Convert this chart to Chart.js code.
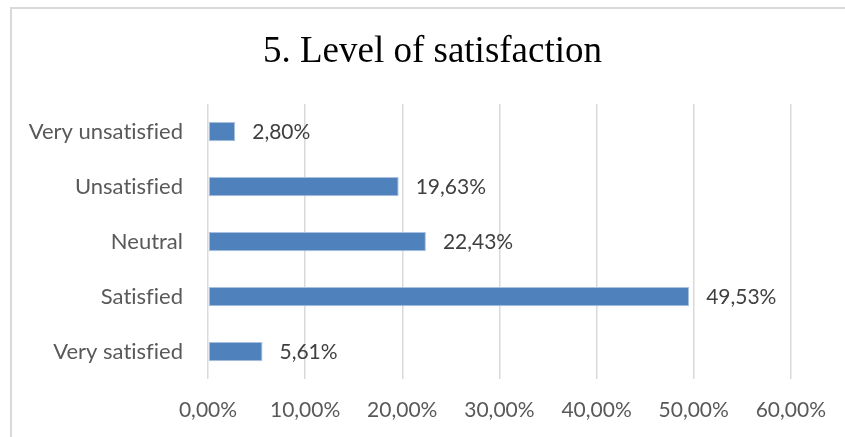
<!DOCTYPE html>
<html>
<head>
<meta charset="utf-8">
<script src="https://cdn.jsdelivr.net/npm/chart.js@4"></script>
<style>
  html, body { margin: 0; padding: 0; background: #fff; overflow: hidden; }
  #frame {
    position: absolute;
    left: 10px;
    top: 7px;
    width: 850px;
    height: 440px;
    border-left: 2px solid #d9d9d9;
    border-top: 2px solid #d9d9d9;
  }
  #wrap { position: absolute; left: 0; top: 0; width: 833px; height: 428px; }
</style>
</head>
<body>
<div id="frame">
  <div id="wrap"><canvas id="chart"></canvas></div>
</div>
<script>
const categories = ["Very unsatisfied", "Unsatisfied", "Neutral", "Satisfied", "Very satisfied"];
const shares = [2.80, 19.63, 22.43, 49.53, 5.61];
const tickValues = [0, 10, 20, 30, 40, 50, 60];
const chartTitle = "5. Level of satisfaction";

const pct = (v) => v.toFixed(2).replace(".", ",") + "%";

// no "fi" ligatures in the axis labels
const plainText = {
  id: "plainText",
  beforeDraw(chart) {
    chart.ctx.textRendering = "optimizeSpeed";
  },
};

// serif heading, centred on the whole frame
const heading = {
  id: "heading",
  afterDraw(chart) {
    const ctx = chart.ctx;
    ctx.save();
    ctx.textRendering = "auto";
    ctx.font = "37px 'Liberation Serif'";
    ctx.fillStyle = "#000";
    ctx.textAlign = "center";
    ctx.textBaseline = "alphabetic";
    ctx.fillText(chartTitle, chart.width / 2 + 4, 53);
    ctx.restore();
  },
};

// value labels to the right of each bar
const barLabels = {
  id: "barLabels",
  afterDatasetsDraw(chart) {
    const ctx = chart.ctx;
    const meta = chart.getDatasetMeta(0);
    ctx.save();
    ctx.font = "21px Lato";
    ctx.fillStyle = "#404040";
    ctx.textAlign = "left";
    ctx.textBaseline = "middle";
    meta.data.forEach((bar, i) => {
      ctx.fillText(pct(shares[i]), bar.x + 17, bar.y + 1);
    });
    ctx.restore();
  },
};

new Chart(document.getElementById("chart"), {
  type: "bar",
  data: {
    labels: categories,
    datasets: [
      {
        data: shares,
        backgroundColor: "#4f81bd",
        borderColor: "#a9c1e0",
        borderWidth: 1,
        borderSkipped: false,
        categoryPercentage: 1,
        barPercentage: 0.35,
      },
    ],
  },
  options: {
    indexAxis: "y",
    responsive: true,
    maintainAspectRatio: false,
    animation: false,
    layout: { padding: { top: 95, right: 54, bottom: 8, left: 0 } },
    plugins: {
      legend: { display: false },
      tooltip: { enabled: false },
      title: { display: false },
    },
    scales: {
      x: {
        min: 0,
        max: 60,
        afterBuildTicks: (scale) => {
          scale.ticks = tickValues.map((v) => ({ value: v }));
        },
        afterFit: (scale) => {
          scale.height = 50;
        },
        grid: { color: "#d9d9d9", lineWidth: 1.5, drawTicks: false },
        border: { display: false },
        ticks: {
          padding: 19,
          color: "#595959",
          font: { family: "Lato", size: 21 },
          callback: (v) => pct(v),
        },
      },
      y: {
        afterFit: (scale) => {
          scale.width = 196;
        },
        grid: { display: false, drawTicks: false },
        border: { display: false },
        ticks: {
          padding: 25,
          color: "#595959",
          font: { family: "Lato", size: 22 },
        },
      },
    },
  },
  plugins: [plainText, barLabels, heading],
});
</script>
</body>
</html>
